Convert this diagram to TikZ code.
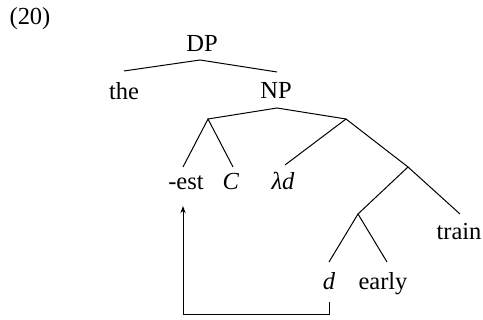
\documentclass[tikz,border=0pt]{standalone}
\usepackage{fontspec}
\setmainfont{Liberation Serif}
\usetikzlibrary{arrows.meta}
\begin{document}
\begin{tikzpicture}[x=0.5pt,y=-0.5pt,
  lbl/.style={anchor=base,inner sep=0pt,font=\fontsize{12.25}{14}\selectfont},
  branch/.style={line width=0.5pt},
  movearrow/.style={line width=0.5pt,-{Stealth[length=3.6pt,width=2.6pt]}}]
\useasboundingbox (0,0) rectangle (483,320);

% labels
\node[lbl] (ex)    at (30,25)  {(20)};
\node[lbl] (dp)    at (202,52) {DP};
\node[lbl] (the)   at (124,100) {the};
\node[lbl] (np)    at (276,99) {NP};
\node[lbl] (est)   at (186,190) {-est};
\node[lbl] (c)     at (231,190) {\textit{C}};
\node[lbl] (lam)   at (283,190) {\textit{λd}};
\node[lbl] (train) at (459,240) {train};
\node[lbl] (d)     at (329,290) {\textit{d}};
\node[lbl] (early) at (383,290) {early};

% branching points and branch ends
\coordinate (dpb)    at (200,60);
\coordinate (theT)   at (124,71);
\coordinate (npT)    at (277,72);
\coordinate (npb)    at (277,108);
\coordinate (lb)     at (208,119);
\coordinate (rb)     at (346,119);
\coordinate (estT)   at (183,167);
\coordinate (cT)     at (233,167);
\coordinate (lamT)   at (285,165);
\coordinate (vb)     at (408,167);
\coordinate (dfb)    at (358,214);
\coordinate (trainT) at (460,214);
\coordinate (dT)     at (329,262);
\coordinate (earlyT) at (387,262);

% tree
\draw[branch] (theT) -- (dpb) -- (npT);
\draw[branch] (lb) -- (npb) -- (rb);
\draw[branch] (estT) -- (lb) -- (cT);
\draw[branch] (lamT) -- (rb) -- (vb);
\draw[branch] (dfb) -- (vb) -- (trainT);
\draw[branch] (dT) -- (dfb) -- (earlyT);

% movement arrow
\coordinate (dfoot)   at (329,302);
\coordinate (estfoot) at (183,206);
\draw[movearrow] (dfoot) -- ++(0,13) -| (estfoot);
\end{tikzpicture}
\end{document}
